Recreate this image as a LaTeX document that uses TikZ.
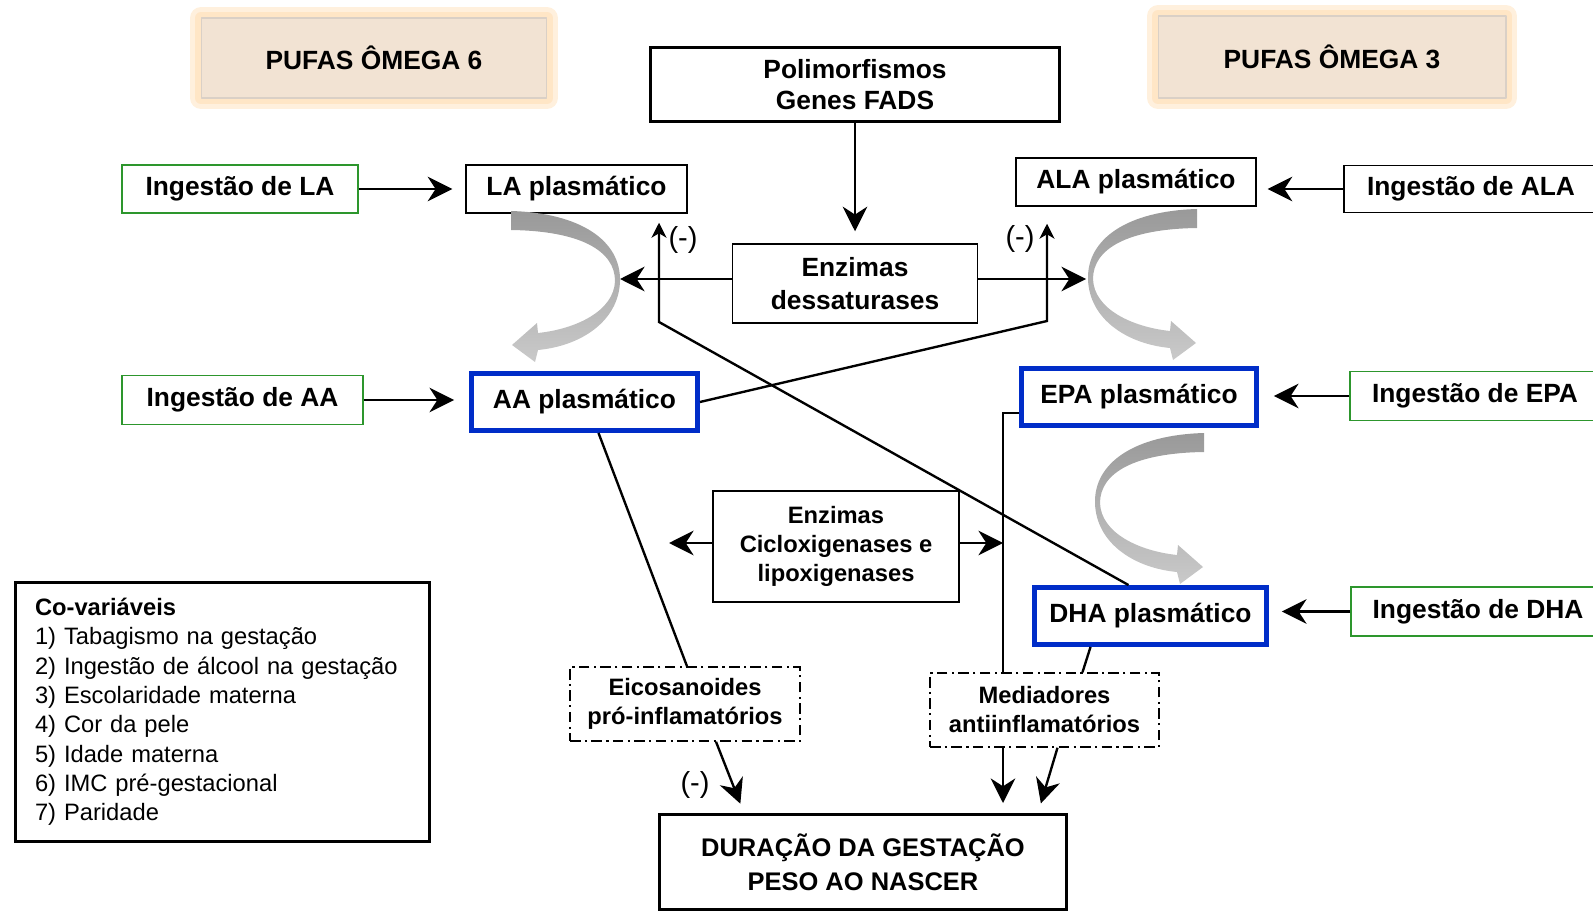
\documentclass[tikz,border=0pt]{standalone}
\usepackage{fontspec}
\setmainfont{Liberation Sans}
\usetikzlibrary{arrows.meta,calc}

\definecolor{ingreen}{RGB}{45,150,45}
\definecolor{plasblue}{RGB}{0,45,200}
\definecolor{pufafill}{RGB}{242,227,211}
\definecolor{pufaline}{RGB}{218,208,198}
\definecolor{pufaglow}{RGB}{255,230,198}

\tikzset{
  lbl/.style={font=\fontsize{15}{18}\selectfont\bfseries, align=center, inner sep=0pt},
  box/.style={lbl, draw, line width=0.85pt},
  thickbox/.style={lbl, draw, line width=1.7pt},
  ingbox/.style={box, draw=ingreen},
  plasbox/.style={box, draw=plasblue, line width=2.8pt},
  smallbox/.style={box, font=\fontsize{13.5}{16.5}\selectfont\bfseries},
  dashbox/.style={smallbox, dash pattern=on 6pt off 2.5pt on 1.2pt off 2.5pt},
  pufabox/.style={lbl, draw=pufaline, line width=0.6pt, fill=pufafill, line join=round,
    preaction={draw=pufaglow!60, line width=0.44cm},
    preaction={draw=pufaglow, line width=0.24cm}},
  minus/.style={font=\fontsize{16.5}{18}\selectfont, inner sep=0pt},
  conn/.style={line width=1.35pt},
  inh/.style={conn, -{Stealth[length=8.5pt,width=8.5pt,inset=2.5pt]}},
  >={Stealth[length=14pt,width=14pt,inset=4.5pt]}
}

\newcommand{\bendarrow}{%
  \shade[top color=black!40, bottom color=black!21]
    (0,0) .. controls (70,2) and (110,30) .. (109,70)
    .. controls (108,110) and (70,135) .. (27,139)
    -- (24,151) -- (1,134) -- (26,112) -- (27,122)
    .. controls (65,118) and (103,100) .. (104,70)
    .. controls (104,40) and (70,20) .. (0,19) -- cycle;}

\begin{document}
\begin{tikzpicture}[x=0.02cm,y=-0.02cm]
   \useasboundingbox (0,0) rectangle (1593,912);

   \node[pufabox, minimum width=6.92cm, minimum height=1.6cm] (pufa6) at (374,58) {PUFAS ÔMEGA 6};
   \node[pufabox, minimum width=6.96cm, minimum height=1.64cm] (pufa3) at (1332,57) {PUFAS ÔMEGA 3};
   \node[thickbox, minimum width=8.18cm, minimum height=1.48cm] (poli) at (855,84.5) {Polimorfismos\\Genes FADS};

   \node[ingbox, minimum width=4.72cm, minimum height=0.96cm] (ingLA) at (240,189) {Ingestão de LA};
   \node[box, minimum width=4.42cm, minimum height=0.96cm] (laP) at (576.5,189) {LA plasmático};
   \node[box, minimum width=4.8cm, minimum height=0.96cm] (alaP) at (1136,182) {ALA plasmático};
   \node[box, minimum width=5.08cm, minimum height=0.94cm] (ingALA) at (1471,189) {Ingestão de ALA};

   \node[box, minimum width=4.9cm, minimum height=1.58cm, font=\fontsize{15}{18.7}\selectfont\bfseries] (enzD) at (855,283.5) {Enzimas\\dessaturases};

   \node[ingbox, minimum width=4.82cm, minimum height=0.98cm] (ingAA) at (242.5,400) {Ingestão de AA};
   \node[plasbox, minimum width=4.52cm, minimum height=1.14cm] (aaP) at (584.5,402) {AA plasmático};
   \node[plasbox, minimum width=4.7cm, minimum height=1.14cm] (epaP) at (1139,397) {EPA plasmático};
   \node[ingbox, minimum width=5.0cm, minimum height=0.98cm] (ingEPA) at (1475,396) {Ingestão de EPA};

   \node[smallbox, minimum width=4.92cm, minimum height=2.22cm] (enzC) at (836,546.5) {Enzimas\\Cicloxigenases e\\lipoxigenases};

   \node[plasbox, minimum width=4.64cm, minimum height=1.14cm] (dhaP) at (1150.5,616) {DHA plasmático};
   \node[ingbox, minimum width=5.08cm, minimum height=0.98cm] (ingDHA) at (1478,611.5) {Ingestão de DHA};

   \node[draw, line width=1.7pt, minimum width=8.28cm, minimum height=5.18cm, text width=7.5cm,
         align=left, inner sep=0pt, font=\fontsize{13.5}{16.7}\selectfont] (covar) at (222.5,712)
     {\textbf{Co-variáveis}\\1) Tabagismo na gestação\\2) Ingestão de álcool na gestação\\3) Escolaridade materna\\4) Cor da pele\\5) Idade materna\\6) IMC pré-gestacional\\7) Paridade};

   \node[dashbox, minimum width=4.6cm, minimum height=1.48cm] (eico) at (685,704) {Eicosanoides\\pró-inflamatórios};
   \node[dashbox, minimum width=4.58cm, minimum height=1.48cm] (medi) at (1044.5,710) {Mediadores\\antiinflamatórios};
   \node[thickbox, minimum width=8.14cm, minimum height=1.9cm, font=\fontsize{14.5}{19.3}\selectfont\bfseries] (dur) at (863,862) {DURAÇÃO DA GESTAÇÃO\\PESO AO NASCER};

   \node[minus] (inhL) at (683,240) {(-)};
   \node[minus] (inhR) at (1020,239) {(-)};
   \node[minus] (inhE) at (695,785) {(-)};

   \begin{scope}[shift={(511,211)}] \bendarrow \end{scope}
   \begin{scope}[shift={(1197,209)}, xscale=-1] \bendarrow \end{scope}
   \begin{scope}[shift={(1204,433)}, xscale=-1] \bendarrow \end{scope}

   \coordinate (laTurn) at (620,279);
   \coordinate (alaTurn) at (1086,279);
   \coordinate (jL) at (659,322);
   \coordinate (jR) at (1047,321);
   \coordinate (epaL) at (1003,413);
   \coordinate (cycL) at (669,543);

   \draw[conn,->,shorten >=0.26cm] (ingLA.east) -- (ingLA.east -| laP.west);
   \draw[conn,->,shorten >=0.3cm] (ingAA.east) -- (ingAA.east -| aaP.west);
   \draw[conn,->,shorten >=0.22cm] (ingALA.west) -- (ingALA.west -| alaP.east);
   \draw[conn,->,shorten >=0.3cm] (ingEPA.west) -- (ingEPA.west -| epaP.east);
   \draw[conn,->,shorten >=0.26cm] (ingDHA.west) -- (ingDHA.west -| dhaP.east);

   \draw[conn,->,shorten >=0.24cm] (poli.south) -- (enzD.north);
   \draw[conn,->] (enzD.west |- laTurn) -- (laTurn);
   \draw[conn,->] (enzD.east |- alaTurn) -- (alaTurn);

   \draw[inh,shorten >=0.18cm] ($(dhaP.north)+(-22,0)$) -- (jL) -- (jL |- laP.south);
   \draw[inh,shorten >=0.34cm] (aaP.east) -- (jR) -- (jR |- alaP.south);

   \draw[conn] (epaP.west |- epaL) -- (epaL) -- (epaL |- medi.north);
   \draw[conn,->] (enzC.west |- cycL) -- (cycL);
   \draw[conn,->] (enzC.east |- cycL) -- (epaL |- cycL);

   \draw[conn] ($(aaP.south)+(14,0)$) -- ($(eico.north)+(2,0)$);
   \draw[conn] ($(dhaP.south)+(-60,0)$) -- ($(medi.north)+(38,0)$);

   \draw[conn,->,shorten >=0.2cm] ($(eico.south)+(31,0)$) -- ($(dur.north)+(-119,0)$);
   \draw[conn,->,shorten >=0.2cm] (epaL |- medi.south) -- (epaL |- dur.north);
   \draw[conn,->,shorten >=0.2cm] ($(medi.south)+(13,0)$) -- ($(dur.north)+(175,0)$);

\end{tikzpicture}
\end{document}
